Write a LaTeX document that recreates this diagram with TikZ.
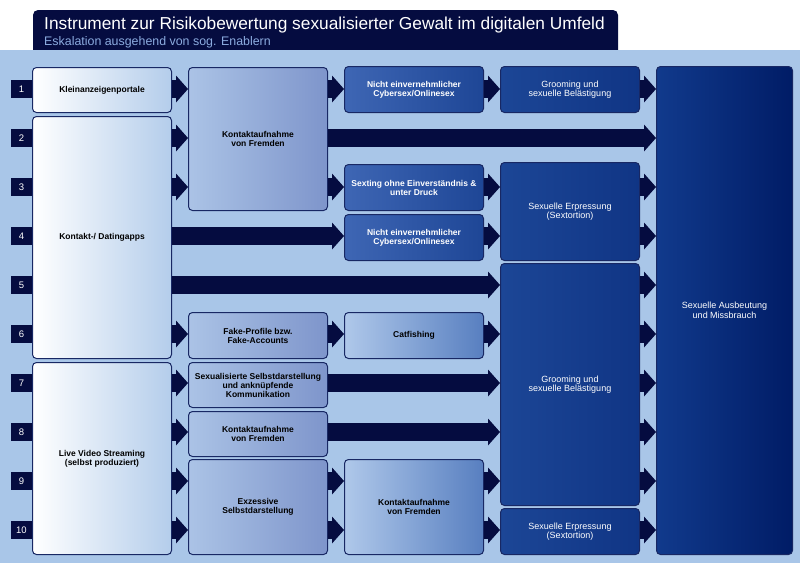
\documentclass[tikz,border=0pt]{standalone}
\usepackage{fontspec}
\setmainfont{Liberation Sans}
\usepackage{xcolor}
\usetikzlibrary{arrows.meta, positioning}

\definecolor{navy}{RGB}{5,12,64}
\definecolor{panel}{RGB}{169,198,232}
\definecolor{rand}{RGB}{24,40,100}
\definecolor{subtext}{RGB}{140,172,224}
\definecolor{eins}{RGB}{180,205,235}
\definecolor{zweiL}{RGB}{171,195,230}
\definecolor{zweiR}{RGB}{126,149,203}
\definecolor{dreiL}{RGB}{62,102,180}
\definecolor{dreiR}{RGB}{30,70,150}
\definecolor{hellL}{RGB}{175,200,234}
\definecolor{hellR}{RGB}{88,127,192}
\definecolor{vierL}{RGB}{28,70,150}
\definecolor{vierR}{RGB}{16,53,133}
\definecolor{fuenfL}{RGB}{17,58,140}
\definecolor{fuenfR}{RGB}{0,28,102}

\tikzset{
  box/.style={draw=rand, line width=1pt, rounded corners=4pt, align=center,
    anchor=north west, minimum width=139pt, inner sep=1pt},
  dunkel/.style={font=\fontsize{8.5}{9}\selectfont\bfseries},
  hell/.style={font=\fontsize{9}{9.5}\selectfont, text=white},
  quelle/.style={box, dunkel, left color=white, right color=eins},
  mittel/.style={box, dunkel, left color=zweiL, right color=zweiR},
  folge/.style={box, hell, font=\fontsize{8.5}{9}\selectfont\bfseries, left color=dreiL, right color=dreiR},
  folgehell/.style={box, dunkel, left color=hellL, right color=hellR},
  delikt/.style={box, hell, left color=vierL, right color=vierR},
  ziel/.style={box, hell, left color=fuenfL, right color=fuenfR},
  nr/.style={fill=navy, text=white, minimum width=21pt, minimum height=18pt,
    inner sep=0pt, font=\fontsize{9.5}{10}\selectfont},
  pfeil/.style={navy, line width=18pt,
    -{Triangle[length=12pt, width=27pt, line width=0pt]}}
}

\begin{document}
\begin{tikzpicture}[x=1pt, y=-1pt]
\useasboundingbox (0,0) rectangle (800,563);
\fill[navy, rounded corners=5pt] (33,10) rectangle (618,62);
\fill[panel] (0,50) rectangle (800,563);
\node[anchor=base west, text=white, font=\fontsize{17.3}{19}\selectfont, inner sep=0pt] (titel) at (44,29)
  {Instrument zur Risikobewertung sexualisierter Gewalt im digitalen Umfeld};
\node[anchor=base west, text=subtext, font=\fontsize{12.4}{14}\selectfont, inner sep=0pt] (untertitel) at (44,45)
  {Eskalation ausgehend von sog. Enablern};

\foreach \i in {1,...,10}
  \node[nr] (n\i) at (21.5,{89+49*(\i-1)}) {\i};

\node[quelle, minimum height=45pt] (klein) at (32,67) {Kleinanzeigenportale};
\node[quelle, minimum height=242pt] (dating) at (32,116) {Kontakt-/ Datingapps};
\node[quelle, minimum height=192pt] (live) at (32,362) {Live Video Streaming\\(selbst produziert)};

\node[mittel, minimum height=143pt] (kontakt1) at (188,67) {Kontaktaufnahme\\von Fremden};
\node[mittel, minimum height=46pt] (fake) at (188,312) {Fake-Profile bzw.\\Fake-Accounts};
\node[mittel, minimum height=45pt] (sexual) at (188,362) {Sexualisierte Selbstdarstellung\\und anknüpfende\\Kommunikation};
\node[mittel, minimum height=45pt] (kontakt2) at (188,411) {Kontaktaufnahme\\von Fremden};
\node[mittel, minimum height=95pt] (exzessiv) at (188,459) {Exzessive\\Selbstdarstellung};

\node[folge, minimum height=46pt] (nicht1) at (344,66) {Nicht einvernehmlicher\\Cybersex/Onlinesex};
\node[folge, minimum height=46pt] (sexting) at (344,164) {Sexting ohne Einverständnis \&\\unter Druck};
\node[folge, minimum height=46pt] (nicht2) at (344,214) {Nicht einvernehmlicher\\Cybersex/Onlinesex};
\node[folgehell, minimum height=46pt] (catfish) at (344,312) {Catfishing};
\node[folgehell, minimum height=95pt] (kontakt3) at (344,459) {Kontaktaufnahme\\von Fremden};

\node[delikt, minimum height=46pt] (groom1) at (500,66) {Grooming und\\sexuelle Belästigung};
\node[delikt, minimum height=98pt] (erpress1) at (500,162) {Sexuelle Erpressung\\(Sextortion)};
\node[delikt, minimum height=242pt] (groom2) at (500,263) {Grooming und\\sexuelle Belästigung};
\node[delikt, minimum height=46pt] (erpress2) at (500,508) {Sexuelle Erpressung\\(Sextortion)};

\node[ziel, minimum width=136pt, minimum height=488pt] (ausbeut) at (656,66) {Sexuelle Ausbeutung\\und Missbrauch};

\draw[pfeil] (klein.east |- n1) -- (kontakt1.west |- n1);
\draw[pfeil] (kontakt1.east |- n1) -- (nicht1.west |- n1);
\draw[pfeil] (nicht1.east |- n1) -- (groom1.west |- n1);
\draw[pfeil] (dating.east |- n2) -- (kontakt1.west |- n2);
\draw[pfeil] (kontakt1.east |- n2) -- (ausbeut.west |- n2);
\draw[pfeil] (dating.east |- n3) -- (kontakt1.west |- n3);
\draw[pfeil] (kontakt1.east |- n3) -- (sexting.west |- n3);
\draw[pfeil] (sexting.east |- n3) -- (erpress1.west |- n3);
\draw[pfeil] (dating.east |- n4) -- (nicht2.west |- n4);
\draw[pfeil] (nicht2.east |- n4) -- (erpress1.west |- n4);
\draw[pfeil] (dating.east |- n5) -- (groom2.west |- n5);
\draw[pfeil] (dating.east |- n6) -- (fake.west |- n6);
\draw[pfeil] (fake.east |- n6) -- (catfish.west |- n6);
\draw[pfeil] (catfish.east |- n6) -- (groom2.west |- n6);
\draw[pfeil] (live.east |- n7) -- (sexual.west |- n7);
\draw[pfeil] (sexual.east |- n7) -- (groom2.west |- n7);
\draw[pfeil] (live.east |- n8) -- (kontakt2.west |- n8);
\draw[pfeil] (kontakt2.east |- n8) -- (groom2.west |- n8);
\foreach \i in {9,10} {
  \draw[pfeil] (live.east |- n\i) -- (exzessiv.west |- n\i);
  \draw[pfeil] (exzessiv.east |- n\i) -- (kontakt3.west |- n\i);
}
\draw[pfeil] (kontakt3.east |- n9) -- (groom2.west |- n9);
\draw[pfeil] (kontakt3.east |- n10) -- (erpress2.west |- n10);
\foreach \i/\von in {1/groom1, 3/erpress1, 4/erpress1, 5/groom2, 6/groom2, 7/groom2, 8/groom2, 9/groom2, 10/erpress2}
  \draw[pfeil] (\von.east |- n\i) -- (ausbeut.west |- n\i);
\end{tikzpicture}
\end{document}
